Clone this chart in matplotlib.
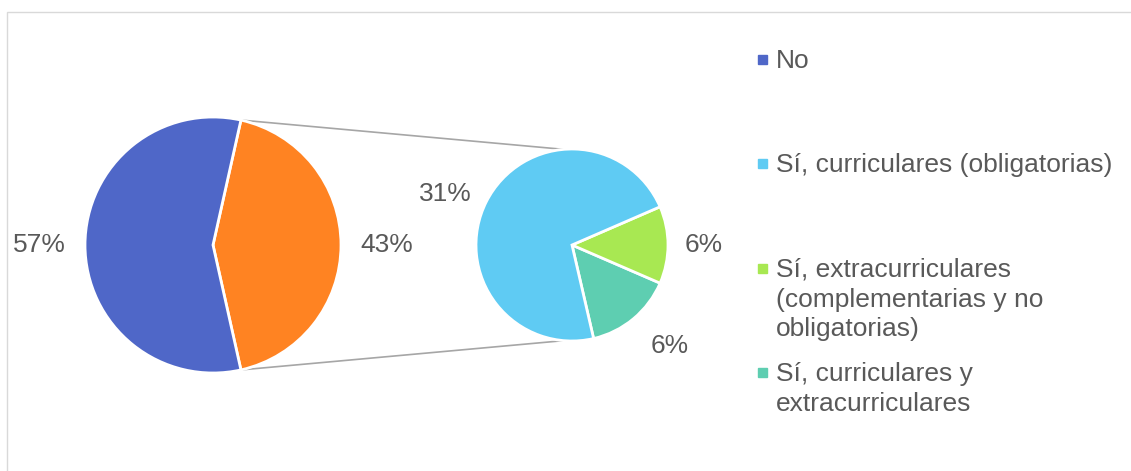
import matplotlib.pyplot as plt
from matplotlib.patches import Rectangle
import numpy as np

plt.rcParams['font.family'] = ['Liberation Sans', 'DejaVu Sans']

# main pie
main_labels = ['No', 'Sí']
main_values = [57, 43]
main_colors = ['#4F67C8', '#FF8322']

# second pie: breakdown of "Sí" (share of the total)
sub_labels = ['Sí, curriculares (obligatorias)',
              'Sí, extracurriculares\n(complementarias y no\nobligatorias)',
              'Sí, curriculares y\nextracurriculares']
sub_values = [31, 5.6, 6.4]
sub_colors = ['#5FCBF3', '#A8E852', '#5ECEB1']

legend_labels = [main_labels[0]] + sub_labels
legend_colors = [main_colors[0]] + sub_colors

W, H = 1131, 471
fig = plt.figure(figsize=(W / 100, H / 100), dpi=100)
ax = fig.add_axes([0, 0, 1, 1])

txt = '#595959'
fs = 19
c1, r1 = (213, 226), 128
c2, r2 = (572, 226), 96
wp = dict(edgecolor='white', linewidth=2)


def fix_align(wedges, texts):
    # pie picks ha from the absolute x, which is wrong with an offset centre
    for w, t in zip(wedges, texts):
        mid = np.radians((w.theta1 + w.theta2) / 2)
        t.set_ha('left' if np.cos(mid) > 0 else 'right')
        t.set_va('center')


# left pie, "Sí" slice centred on the right
start1 = -main_values[1] / 100 * 180
w1, t1 = ax.pie(main_values[::-1], colors=main_colors[::-1], startangle=start1,
                center=c1, radius=r1, labels=[f'{v:.0f}%' for v in main_values[::-1]],
                labeldistance=1.15, wedgeprops=wp,
                textprops=dict(color=txt, fontsize=fs))
fix_align(w1, t1)

# right pie (counter-clockwise: teal, green, blue)
order = [2, 1, 0]
w2, t2 = ax.pie([sub_values[i] for i in order], colors=[sub_colors[i] for i in order],
                startangle=-77, center=c2, radius=r2,
                labels=[f'{sub_values[i]:.0f}%' for i in order],
                labeldistance=1.17, wedgeprops=wp,
                textprops=dict(color=txt, fontsize=fs))
fix_align(w2, t2)
# the lower label sits a bit further out, as in the original
a = np.radians(-52)
t2[0].set_position((c2[0] + 1.33 * r2 * np.cos(a), c2[1] + 1.33 * r2 * np.sin(a)))

# connector lines between the two pies
sl = w1[0]
for ang1, ang2 in [(sl.theta2, 95), (sl.theta1, -95)]:
    x0 = c1[0] + r1 * np.cos(np.radians(ang1))
    y0 = c1[1] + r1 * np.sin(np.radians(ang1))
    x1 = c2[0] + r2 * np.cos(np.radians(ang2))
    y1 = c2[1] + r2 * np.sin(np.radians(ang2))
    ax.plot([x0, x1], [y0, y1], color='#A6A6A6', lw=1.2, zorder=0)

ax.set_xlim(0, W)
ax.set_ylim(0, H)
ax.set_aspect('auto')
ax.axis('off')

# chart frame
ax.add_patch(Rectangle((7, -20), W + 20, H - 12 + 20, fill=False,
                       edgecolor='#D9D9D9', lw=1, clip_on=False))

# legend
ys = [412, 308, 203, 99]
for lab, col, y in zip(legend_labels, legend_colors, ys):
    ax.add_patch(Rectangle((758, y - 4.5), 9, 9, color=col))
    ax.text(776, y + 10, lab, color=txt, fontsize=fs, va='top', ha='left',
            linespacing=1.3)

fig.savefig('out.png', dpi=100)
